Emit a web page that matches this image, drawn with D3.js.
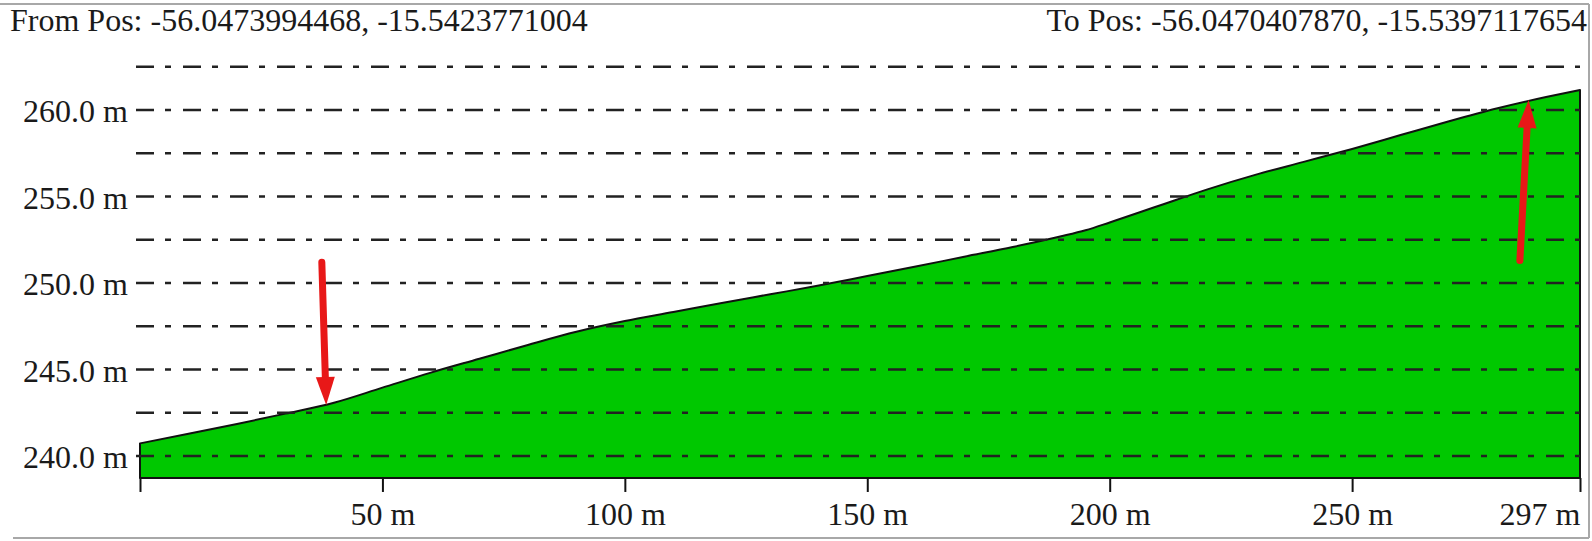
<!DOCTYPE html>
<html>
<head>
<meta charset="utf-8">
<script src="https://cdn.jsdelivr.net/npm/d3@7"></script>
<style>
  html, body { margin: 0; padding: 0; background: #ffffff; }
  svg { display: block; }
  text { font-family: "Liberation Serif", "Times New Roman", serif; fill: #1a1a1a; }
</style>
</head>
<body>
<svg id="chart" width="1592" height="541"></svg>
<script>
// ---- data ----
const distances = [0, 10, 20, 30, 40, 50, 60, 70, 80, 90, 100, 110, 120, 130, 140, 150,
                   160, 170, 180, 190, 195, 200, 210, 220, 230, 240, 250, 260, 270, 280, 290, 297];
const elevations = [240.73, 241.28, 241.85, 242.45, 243.08, 243.95, 244.82, 245.62, 246.42, 247.18,
                    247.80, 248.32, 248.85, 249.35, 249.85, 250.40, 250.95, 251.52, 252.08, 252.70,
                    253.05, 253.50, 254.45, 255.40, 256.25, 257.00, 257.75, 258.55, 259.35, 260.10, 260.75, 261.16];
const baseElevation = 238.73;
const yTickValues = [240, 245, 250, 255, 260];
const gridValues = [240, 242.5, 245, 247.5, 250, 252.5, 255, 257.5, 260, 262.5];
const xTickValues = [0, 50, 100, 150, 200, 250, 297];
const xTickLabels = ["", "50 m", "100 m", "150 m", "200 m", "250 m", "297 m"];
const fromLabel = "From Pos: -56.0473994468, -15.5423771004";
const toLabel = "To Pos: -56.0470407870, -15.5397117654";
// arrows: tail and tip as [distance, elevation]
const arrowTails = [[37.5, 251.2], [284.6, 251.3]];
const arrowTips = [[38.4, 242.95], [286.4, 260.58]];

// ---- drawing ----
const svg = d3.select("#chart");

const x = d3.scaleLinear().domain([0, 297]).range([140, 1580]);
const y = d3.scaleLinear().domain([240, 262.5]).range([456, 66.75]);

// frame (top, right, bottom)
const frame = svg.append("g").attr("stroke", "#a8a8a8").attr("stroke-width", 2).attr("fill", "none");
frame.append("line").attr("x1", 0).attr("x2", 1589).attr("y1", 4).attr("y2", 4);
frame.append("line").attr("x1", 1589).attr("x2", 1589).attr("y1", 4).attr("y2", 538);
frame.append("line").attr("x1", 13).attr("x2", 1589).attr("y1", 538).attr("y2", 538);

// titles
svg.append("text").attr("x", 10).attr("y", 31).attr("font-size", 32).text(fromLabel);
svg.append("text").attr("x", 1587).attr("y", 31).attr("font-size", 32)
   .attr("text-anchor", "end").text(toLabel);

// profile area
const pts = distances.map((d, i) => [d, elevations[i]]);
const area = d3.area()
  .x(d => x(d[0]))
  .y0(y(baseElevation))
  .y1(d => y(d[1]))
  .curve(d3.curveMonotoneX);
svg.append("path")
  .datum(pts)
  .attr("d", area)
  .attr("fill", "#00c800")
  .attr("stroke", "#111")
  .attr("stroke-width", 2)
  .attr("stroke-linejoin", "round");

// grid lines (dash-dot), drawn over the area
svg.append("g").selectAll("line").data(gridValues).join("line")
  .attr("x1", 136).attr("x2", x(297))
  .attr("y1", d => y(d)).attr("y2", d => y(d))
  .attr("stroke", "#222")
  .attr("stroke-width", 2.5)
  .attr("stroke-dasharray", "18,11,6,12");

// y axis labels
const yAxis = svg.append("g").attr("transform", `translate(${x(0)},0)`)
  .call(d3.axisLeft(y).tickValues(yTickValues).tickSize(0).tickPadding(12)
        .tickFormat(d => d.toFixed(1) + " m"));
yAxis.select(".domain").remove();
yAxis.selectAll("text").attr("font-size", 32).attr("dy", "0.36em")
  .attr("font-family", "Liberation Serif").attr("fill", "#1a1a1a");

// x axis
const xAxis = svg.append("g").attr("transform", `translate(0,${y(baseElevation)})`)
  .call(d3.axisBottom(x).tickValues(xTickValues).tickSize(14).tickPadding(0)
        .tickFormat((d, i) => xTickLabels[i]));
xAxis.select(".domain").remove();
xAxis.selectAll("line").attr("stroke", "#111").attr("stroke-width", 2);
xAxis.selectAll("text").attr("font-size", 32).attr("font-family", "Liberation Serif")
  .attr("fill", "#1a1a1a").attr("dy", 0).attr("y", 47)
  .attr("text-anchor", (d, i) => i === xTickValues.length - 1 ? "end" : "middle");

// red arrows
const arrows = svg.append("g");
arrowTails.forEach((t, i) => {
  const x1 = x(t[0]), y1 = y(t[1]);
  const x2 = x(arrowTips[i][0]), y2 = y(arrowTips[i][1]);
  const dx = x2 - x1, dy = y2 - y1, len = Math.hypot(dx, dy);
  const ux = dx / len, uy = dy / len;
  const headLen = 28, headHalf = 9.5;
  const bx = x2 - ux * headLen, by = y2 - uy * headLen;
  arrows.append("line")
    .attr("x1", x1).attr("y1", y1).attr("x2", bx + ux * 2).attr("y2", by + uy * 2)
    .attr("stroke", "#e81818").attr("stroke-width", 7).attr("stroke-linecap", "round");
  arrows.append("path")
    .attr("d", `M${x2},${y2} L${bx - uy * headHalf},${by + ux * headHalf} L${bx + uy * headHalf},${by - ux * headHalf} Z`)
    .attr("fill", "#e81818");
});
</script>
</body>
</html>
